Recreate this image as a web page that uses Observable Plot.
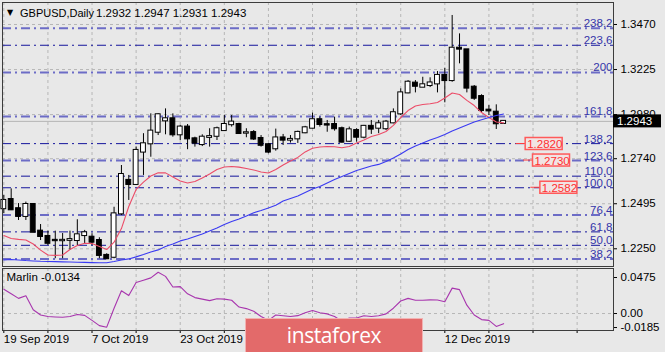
<!DOCTYPE html>
<html><head><meta charset="utf-8">
<script src="https://cdn.jsdelivr.net/npm/d3@7"></script>
<script src="https://cdn.jsdelivr.net/npm/@observablehq/plot@0.6"></script>
<style>
html,body{margin:0;padding:0;background:#e8e8e8;}
#chart{position:relative;width:665px;height:352px;overflow:hidden;background:#e8e8e8;font-family:"Liberation Sans",Arial,sans-serif;}
#chart svg{position:absolute;left:0;}
#wm{position:absolute;left:245px;top:318px;width:178px;height:36px;background:#e36a6a;border:1px solid #f2b2b2;box-sizing:border-box;color:#fff;font-family:"Open Sans",sans-serif;font-size:21px;line-height:32px;text-align:center;letter-spacing:-0.4px;}
</style></head><body><div id="chart"></div>
<script>
// ---- data ----
const opens = [1.2468,1.2518,1.2468,1.2426,1.2491,1.2346,1.2317,1.2296,1.2294,1.2296,
1.2295,1.2322,1.2313,1.2295,1.2214,1.2204,1.2440,1.2622,1.2600,1.2776,
1.2821,1.2884,1.2946,1.2957,1.2870,1.2912,1.2848,1.2817,1.2856,1.2862,
1.2893,1.2925,1.2926,1.2879,1.2882,1.2850,1.2816,1.2794,1.2853,1.2841,
1.2848,1.2881,1.2906,1.2952,1.2925,1.2926,1.2903,1.2835,1.2893,1.2857,
1.2916,1.2906,1.2903,1.2935,1.2984,1.3098,1.3151,1.3129,1.3138,1.3147,
1.3193,1.3165,1.3341,1.3332,1.3129,1.3078,1.3004,1.2993,1.2932];
const highs = [1.2540,1.2576,1.2496,1.2504,1.2496,1.2382,1.2346,1.2346,1.2333,1.2346,
1.2408,1.2350,1.2332,1.2310,1.2223,1.2476,1.2703,1.2649,1.2803,1.2876,
1.2984,1.2984,1.3011,1.2984,1.2921,1.2926,1.2857,1.2870,1.2903,1.2912,
1.2975,1.2975,1.2933,1.2903,1.2893,1.2866,1.2821,1.2901,1.2872,1.2866,
1.2890,1.2916,1.2988,1.2966,1.2948,1.2966,1.2912,1.2912,1.2903,1.2921,
1.2948,1.2948,1.2948,1.3011,1.3120,1.3165,1.3165,1.3183,1.3180,1.3214,
1.3232,1.3519,1.3419,1.3334,1.3138,1.3088,1.3029,1.3033,1.2947];
const lows = [1.2442,1.2458,1.2404,1.2404,1.2337,1.2295,1.2268,1.2196,1.2196,1.2241,
1.2268,1.2277,1.2268,1.2196,1.2191,1.2196,1.2431,1.2513,1.2594,1.2649,
1.2748,1.2866,1.2870,1.2857,1.2839,1.2789,1.2803,1.2806,1.2803,1.2839,
1.2890,1.2912,1.2872,1.2854,1.2839,1.2803,1.2767,1.2781,1.2812,1.2825,
1.2823,1.2876,1.2903,1.2912,1.2884,1.2890,1.2825,1.2830,1.2830,1.2848,
1.2872,1.2876,1.2893,1.2930,1.2975,1.3093,1.3098,1.3127,1.3127,1.3098,
1.3044,1.3156,1.3256,1.3098,1.3057,1.2990,1.2975,1.2899,1.2931];
const closes = [1.2513,1.2462,1.2426,1.2491,1.2340,1.2317,1.2280,1.2294,1.2296,1.2300,
1.2326,1.2337,1.2286,1.2214,1.2196,1.2440,1.2654,1.2600,1.2785,1.2821,
1.2890,1.2979,1.2957,1.2870,1.2912,1.2848,1.2825,1.2857,1.2860,1.2903,
1.2926,1.2939,1.2877,1.2881,1.2847,1.2813,1.2776,1.2853,1.2841,1.2845,
1.2883,1.2908,1.2952,1.2926,1.2923,1.2903,1.2830,1.2897,1.2857,1.2916,
1.2901,1.2930,1.2939,1.2990,1.3098,1.3156,1.3134,1.3142,1.3152,1.3193,
1.3165,1.3341,1.3336,1.3124,1.3069,1.3002,1.3000,1.2930,1.2943];
const maFast = [1.2322,1.2306,1.2301,1.2298,1.2276,1.2243,1.2216,1.2214,1.2216,1.2246,
1.2268,1.2280,1.2279,1.2263,1.2246,1.2286,1.2360,1.2480,1.2573,1.2613,
1.2646,1.2663,1.2663,1.2641,1.2619,1.2608,1.2616,1.2635,1.2657,1.2681,
1.2695,1.2698,1.2694,1.2687,1.2679,1.2668,1.2662,1.2681,1.2706,1.2728,
1.2747,1.2777,1.2797,1.2804,1.2806,1.2805,1.2800,1.2806,1.2825,1.2842,
1.2861,1.2872,1.2888,1.2921,1.2964,1.3002,1.3027,1.3035,1.3039,1.3046,
1.3070,1.3097,1.3089,1.3057,1.3029,1.2991,1.2964,1.2940,1.2935];
const maSlow = [1.2189,1.2192,1.2189,1.2186,1.2184,1.2182,1.2181,1.2180,1.2179,1.2178,
1.2177,1.2176,1.2175,1.2174,1.2174,1.2181,1.2189,1.2195,1.2206,1.2219,
1.2233,1.2244,1.2262,1.2276,1.2293,1.2303,1.2317,1.2331,1.2347,1.2363,
1.2382,1.2398,1.2412,1.2428,1.2446,1.2458,1.2472,1.2487,1.2510,1.2524,
1.2537,1.2556,1.2575,1.2589,1.2608,1.2627,1.2643,1.2660,1.2676,1.2688,
1.2700,1.2709,1.2725,1.2744,1.2766,1.2790,1.2809,1.2825,1.2842,1.2855,
1.2872,1.2891,1.2907,1.2923,1.2940,1.2952,1.2964,1.2975,1.2983];
const marlin = [0.032,0.026,0.020,0.0235,0.005,-0.002,-0.004,-0.0045,-0.005,-0.004,
-0.0013,-0.0025,-0.009,-0.016,-0.018,0.007,0.030,0.0237,0.041,0.044,
0.047,0.0545,0.049,0.035,0.0355,0.026,0.021,0.019,0.017,0.0194,
0.019,0.0175,0.0085,0.0065,0.003,-0.004,-0.009,-0.002,-0.003,-0.004,
-0.0028,0.001,0.004,0.001,-0.0005,-0.004,-0.010,-0.006,-0.006,-0.003,
-0.004,-0.003,-0.0005,0.007,0.0165,0.020,0.0175,0.0175,0.018,0.0178,
0.0155,0.0335,0.0315,0.011,-0.002,-0.008,-0.009,-0.017,-0.0134];

const priceTicks = [1.3470,1.3225,1.2980,1.2740,1.2495,1.2250];
const marlinTicks = [0.0475,0.00,-0.0185];
const marlinTickLabels = ["0.0475","0.00","-0.0185"];
const fibLevels = ["38.2","50.0","61.8","76.4","100.0","110.0","123.6","138.2","161.8","200","223.6","238.2"];
const fibPrices = [1.2195,1.2269,1.2342,1.2434,1.2582,1.2645,1.2730,1.2822,1.2970,1.3209,1.3357,1.3449];
const markerPrices = [1.2820,1.2730,1.2582];
const gridBars = [0,6,12,18,24,30,36,42,48,54,60,66,72,78];
const dateTicks = [0,12,24,36,48,60];
const dateLabels = ["19 Sep 2019","7 Oct 2019","23 Oct 2019","8 Nov 2019","26 Nov 2019","12 Dec 2019"];
const symbol = "GBPUSD,Daily";
const indicatorName = "Marlin";

// ---- build ----
const N = closes.length;
const bars = d3.range(N).map(i => ({i, o: opens[i], h: highs[i], l: lows[i], c: closes[i], f: maFast[i], s: maSlow[i], m: marlin[i]}));
const fibs = fibLevels.map((lab, k) => ({lab, p: fibPrices[k]}));
const blurred = new Set(["38.2","76.4","123.6","161.8","200","238.2"]);
const W = 665, ML = 2, MR = 52;
const xDomain = [-0.18, 82.95];
const FONT = '"Liberation Sans", Arial, sans-serif';
const dash = {stroke: "#b6b6b6", strokeDasharray: "3,3"};
const fibDash = "9,4,2,4";

const mainPlot = Plot.plot({
  width: W, height: 268,
  marginLeft: ML, marginRight: MR, marginTop: 2, marginBottom: 2,
  x: {domain: xDomain, axis: null},
  y: {domain: [1.21537, 1.35896], axis: null},
  style: {background: "transparent", fontFamily: FONT, fontSize: "11.5px", color: "#000", overflow: "visible"},
  marks: [
    Plot.ruleX(gridBars, dash),
    Plot.ruleY(priceTicks, dash),
    Plot.ruleY(fibs.filter(d => blurred.has(d.lab)), {y: "p", stroke: "#6c6cc6", strokeWidth: 2, strokeDasharray: fibDash}),
    Plot.ruleY(fibs.filter(d => !blurred.has(d.lab)), {y: "p", stroke: "#14149c", strokeWidth: 1, strokeDasharray: fibDash}),
    Plot.ruleY([closes[N - 1]], {stroke: "#b4b4b4"}),
    Plot.ruleX(bars, {x: "i", y1: "l", y2: "h", stroke: "#000"}),
    Plot.rect(bars.filter(d => d.c >= d.o), {x1: d => d.i - 0.33, x2: d => d.i + 0.33, y1: "o", y2: "c", fill: "#fff", stroke: "#000", insetTop: -0.5, insetBottom: -0.5}),
    Plot.rect(bars.filter(d => d.c < d.o), {x1: d => d.i - 0.33, x2: d => d.i + 0.33, y1: "c", y2: "o", fill: "#000", stroke: "#000", insetTop: -0.5, insetBottom: -0.5}),
    Plot.line(bars, {x: "i", y: "f", stroke: "#ec4c68", strokeWidth: 1.1}),
    Plot.line(bars, {x: "i", y: "s", stroke: "#3a3af2", strokeWidth: 1.1}),
    Plot.text(fibs, {y: "p", text: "lab", frameAnchor: "right", textAnchor: "end", lineAnchor: "bottom", dx: -1, dy: -1, fill: "#3535aa"}),
    Plot.axisY({anchor: "right", ticks: priceTicks, tickFormat: d => d.toFixed(4), tickSize: 3, tickPadding: 4, label: null}),
    Plot.frame({stroke: "#3c3c3c"})
  ]
});

const subPlot = Plot.plot({
  width: W, height: 86,
  marginLeft: ML, marginRight: MR, marginTop: 2, marginBottom: 22,
  x: {domain: xDomain, axis: null},
  y: {domain: [-0.0224, 0.0594], axis: null},
  style: {background: "transparent", fontFamily: FONT, fontSize: "11.5px", color: "#000", overflow: "visible"},
  marks: [
    Plot.ruleX(gridBars, dash),
    Plot.ruleY([0], dash),
    Plot.line(bars, {x: "i", y: "m", stroke: "#a836ae", strokeWidth: 1.1}),
    Plot.axisY({anchor: "right", ticks: marlinTicks, tickFormat: d => marlinTickLabels[marlinTicks.indexOf(d)], tickSize: 3, tickPadding: 4, label: null}),
    Plot.axisX({anchor: "bottom", ticks: gridBars, tickFormat: () => "", tickSize: 3, label: null}),
    Plot.axisX({anchor: "bottom", ticks: dateTicks, tickFormat: d => dateLabels[dateTicks.indexOf(d)], tickSize: 0, tickPadding: 4, textAnchor: "start", label: null}),
    Plot.text([`${indicatorName} ${marlin[N - 1].toFixed(4)}`], {frameAnchor: "top-left", textAnchor: "start", lineAnchor: "top", dx: 4, dy: 4, fill: "#000"}),
    Plot.frame({stroke: "#3c3c3c"})
  ]
});

const chart = document.getElementById("chart");
mainPlot.style.top = "0px";
subPlot.style.top = "266px";
chart.appendChild(mainPlot);
chart.appendChild(subPlot);

// annotations positioned through the plot's own scales
const xs = mainPlot.scale("x"), ys = mainPlot.scale("y");
const svgM = d3.select(mainPlot);
const g = svgM.append("g").attr("text-anchor", "start").attr("font-family", FONT).attr("font-size", "11.5px");

// title
g.append("text").attr("x", 7).attr("y", 12.5).attr("dominant-baseline", "central")
  .attr("font-size", "8px").attr("font-family", "DejaVu Sans").text("▼");
g.append("text").attr("x", 20).attr("y", 12.5).attr("dominant-baseline", "central")
  .attr("font-size", "11px").text(symbol);
g.append("text").attr("x", 96).attr("y", 12.5).attr("dominant-baseline", "central")
  .text([opens[N-1], highs[N-1], lows[N-1], closes[N-1]].map(v => v.toFixed(4)).join(" "));

// price labels (right-price objects)
markerPrices.forEach((p, k) => {
  const a = N - 1 + 3 + k;
  const xa = xs.apply(a), xl = xs.apply(a - 1.3), y = ys.apply(p);
  g.append("line").attr("x1", xl).attr("x2", xa).attr("y1", y).attr("y2", y).attr("stroke", "#ff4040").attr("stroke-width", 1);
  g.append("rect").attr("x", xa).attr("y", y - 6).attr("width", 37).attr("height", 12)
    .attr("fill", "#f1e4e4").attr("stroke", "#ff5a5a").attr("stroke-width", 1.5);
  g.append("text").attr("x", xa + 2).attr("y", y + 0.5).attr("dominant-baseline", "central")
    .attr("fill", "#ff3030").text(p.toFixed(4));
});

// current price box
const yc = ys.apply(closes[N - 1]);
const xr = W - MR;
g.append("rect").attr("x", xr).attr("y", yc - 6.5).attr("width", 48).attr("height", 13).attr("fill", "#000");
g.append("text").attr("x", xr + 4).attr("y", yc + 0.5).attr("dominant-baseline", "central")
  .attr("fill", "#fff").text(closes[N - 1].toFixed(4));

// watermark
const wm = document.createElement("div");
wm.id = "wm"; wm.textContent = "instaforex";
chart.appendChild(wm);
</script></body></html>
